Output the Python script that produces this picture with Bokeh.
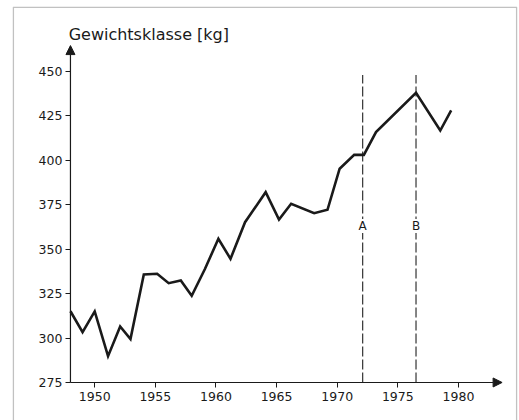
from bokeh.plotting import figure
from bokeh.models import (Range1d, FixedTicker, Arrow, NormalHead, Label, LabelSet,
                          ColumnDataSource, BoxAnnotation)
from bokeh.core.properties import value
from bokeh.embed import file_html
from bokeh.resources import INLINE

# data
years = [1948, 1949.0, 1950.0, 1951.1, 1952.1, 1952.95, 1954.05, 1955.15, 1956.1, 1957.1,
         1958.0, 1959.1, 1960.2, 1961.2, 1962.4, 1964.1, 1965.2, 1966.2, 1968.1, 1969.2,
         1970.2, 1971.4, 1972.2, 1973.2, 1976.5, 1978.5, 1979.4]
weights = [315.1, 303.3, 315.0, 289.8, 306.5, 299.4, 335.8, 336.2, 330.9, 332.4,
           323.8, 339.0, 355.9, 344.6, 365.2, 382.1, 366.7, 375.6, 370.3, 372.2,
           395.3, 403.1, 403.1, 415.9, 438.0, 416.8, 428.1]
event_years = [1972.1, 1976.5]
event_labels = ["A", "B"]
x_ticks = [1950, 1955, 1960, 1965, 1970, 1975, 1980]
y_ticks = [275, 300, 325, 350, 375, 400, 425, 450]
title_text = "Gewichtsklasse [kg]"

FONT = "DejaVu Sans"
INK = "#1a1a1a"

xr = Range1d(1943.22, 1984.87)
yr = Range1d(253.6, 486.6)
p = figure(width=519, height=420, output_backend="svg", toolbar_location=None,
           x_range=xr, y_range=yr,
           min_border_left=12, min_border_right=2, min_border_top=6, min_border_bottom=0)
p.grid.visible = False
p.outline_line_color = None
p.background_fill_color = "white"
p.border_fill_color = "white"

# page frame: open at the bottom (it runs off the page in the reference)
px_x = (xr.end - xr.start) / 505.0
px_y = (yr.end - yr.start) / 414.0
p.add_layout(BoxAnnotation(left=xr.start + 0.8 * px_x, right=xr.end - 0.8 * px_x,
                           top=yr.end - 0.8 * px_y, bottom=yr.start - 60 * px_y,
                           fill_color=None, line_color="#333333", line_width=1.5,
                           level="underlay"))

x0 = years[0]
y0 = y_ticks[0]

for ax in (p.xaxis, p.yaxis):
    ax.axis_line_color = None
    ax.major_tick_line_color = INK
    ax.major_tick_line_width = 1
    ax.major_tick_in = 0
    ax.major_tick_out = 5
    ax.minor_tick_line_color = None
    ax.major_label_text_font = FONT
    ax.major_label_text_font_size = "12.5px"
    ax.major_label_text_color = INK

p.xaxis.fixed_location = y0
p.yaxis.fixed_location = x0
p.xaxis.ticker = FixedTicker(ticks=x_ticks)
p.yaxis.ticker = FixedTicker(ticks=y_ticks)
p.xaxis.major_label_standoff = 5
p.yaxis.major_label_standoff = 3

# axis lines with arrowheads
p.add_layout(Arrow(end=NormalHead(size=9, fill_color=INK, line_color=INK, line_width=1),
                   x_start=x0, y_start=y0, x_end=1983.6, y_end=y0,
                   line_color=INK, line_width=1.2))
p.add_layout(Arrow(end=NormalHead(size=9, fill_color=INK, line_color=INK, line_width=1),
                   x_start=x0, y_start=y0, x_end=x0, y_end=464.6,
                   line_color=INK, line_width=1.2))

# event lines
p.segment(x0=event_years, y0=[y0] * len(event_years), x1=event_years, y1=[448] * len(event_years),
          line_color="#333333", line_width=1.2, line_dash="10 3")
src = ColumnDataSource(dict(x=event_years, y=[363] * len(event_years), t=event_labels))
p.add_layout(LabelSet(x="x", y="y", text="t", source=src, text_align="center",
                      text_baseline="middle", text_font=value(FONT),
                      text_font_size=value("12px"), text_color=value(INK),
                      background_fill_color="white"))

# data line
p.line(years, weights, line_color=INK, line_width=2.6, line_join="miter")

p.add_layout(Label(x=1947.85, y=470.8, text=title_text, text_font=FONT,
                   text_font_size="16px", text_color=INK, text_baseline="alphabetic",
                   text_align="left"))

open("out.html", "w").write(file_html(p, INLINE))
